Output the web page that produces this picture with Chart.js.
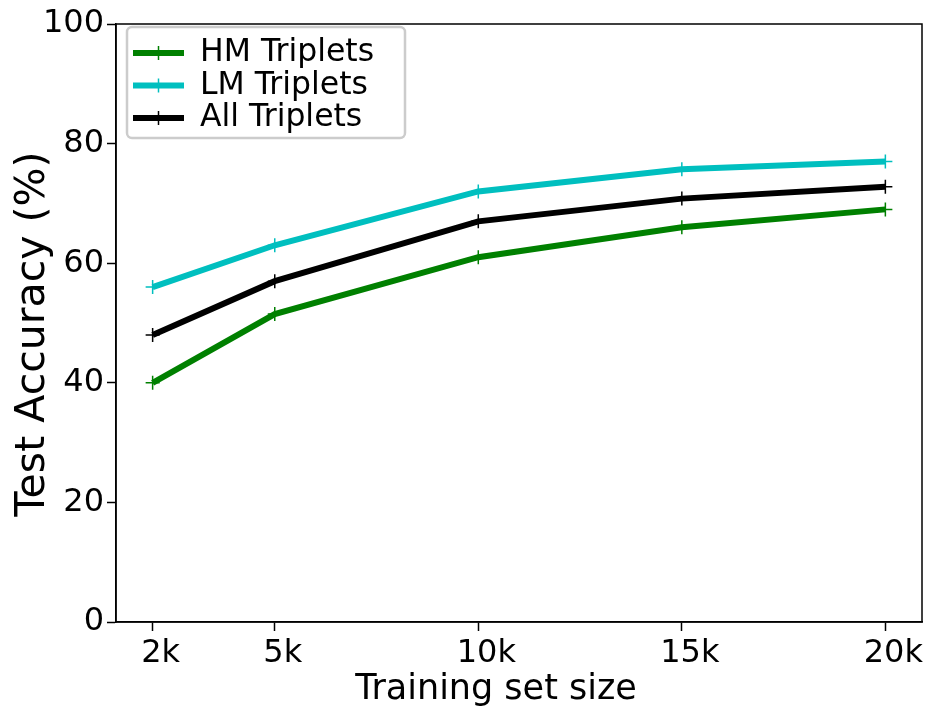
<!DOCTYPE html>
<html>
<head>
<meta charset="utf-8">
<script src="https://cdn.jsdelivr.net/npm/chart.js@4.4.0/dist/chart.umd.min.js"></script>
<style>
  html, body { margin: 0; padding: 0; background: #fff; }
  #wrap { width: 936px; height: 708px; }
</style>
</head>
<body>
<div id="wrap"><canvas id="accChart"></canvas></div>
<script>
const sizes = [2, 5, 10, 15, 20];
const sizeLabels = ["2k", "5k", "10k", "15k", "20k"];
const hmTriplets = [40, 51.5, 61, 66, 69];
const lmTriplets = [56, 63, 72, 75.7, 77];
const allTriplets = [48, 57, 67, 70.8, 72.8];
const yTicks = [0, 20, 40, 60, 80, 100];
const xTitle = "Training set size";
const yTitle = "Test Accuracy (%)";

const FONT = "'DejaVu Sans', sans-serif";

function toPoints(values) {
  return values.map((v, i) => ({ x: sizes[i], y: v }));
}

function makeSet(label, values, color) {
  return {
    label: label,
    data: toPoints(values),
    borderColor: color,
    backgroundColor: color,
    borderWidth: 6,
    pointStyle: "cross",
    pointRadius: 7,
    pointBorderWidth: 1.5,
    pointHoverRadius: 7,
    tension: 0,
  };
}

// box around the plot, axis titles and the framed legend, matplotlib style
const framePlugin = {
  id: "frame",
  afterDraw(chart) {
    const { ctx, chartArea: a } = chart;
    ctx.save();
    ctx.strokeStyle = "#000";
    ctx.lineWidth = 1.5;
    ctx.strokeRect(a.left, a.top, a.right - a.left, a.bottom - a.top);

    // axis titles
    ctx.fillStyle = "#000";
    ctx.textAlign = "center";
    ctx.textBaseline = "alphabetic";
    ctx.font = "35px " + FONT;
    ctx.fillText(xTitle, 496, 699);
    ctx.save();
    ctx.translate(44, 334);
    ctx.rotate(-Math.PI / 2);
    ctx.font = "41px " + FONT;
    ctx.fillText(yTitle, 0, 0);
    ctx.restore();

    // legend
    const bx = 127, by = 27, bw = 278, bh = 111, r = 5;
    ctx.beginPath();
    ctx.roundRect(bx, by, bw, bh, r);
    ctx.fillStyle = "rgba(255,255,255,0.85)";
    ctx.fill();
    ctx.strokeStyle = "#cccccc";
    ctx.lineWidth = 2.5;
    ctx.stroke();

    ctx.font = "31.5px " + FONT;
    ctx.textAlign = "left";
    ctx.textBaseline = "middle";
    chart.data.datasets.forEach((ds, i) => {
      const y = 53 + i * 32.5;
      ctx.strokeStyle = ds.borderColor;
      ctx.lineWidth = 6;
      ctx.beginPath();
      ctx.moveTo(133, y);
      ctx.lineTo(184, y);
      ctx.stroke();
      ctx.lineWidth = 1.5;
      ctx.beginPath();
      ctx.moveTo(158.5, y - 7);
      ctx.lineTo(158.5, y + 7);
      ctx.stroke();
      ctx.fillStyle = "#000";
      ctx.fillText(ds.label, 200, y);
    });
    ctx.restore();
  },
};

const ctx = document.getElementById("accChart").getContext("2d");

new Chart(ctx, {
  type: "line",
  data: {
    datasets: [
      makeSet("HM Triplets", hmTriplets, "#008000"),
      makeSet("LM Triplets", lmTriplets, "#00bfbf"),
      makeSet("All Triplets", allTriplets, "#000000"),
    ],
  },
  options: {
    responsive: true,
    maintainAspectRatio: false,
    animation: false,
    layout: { padding: { top: 24, right: 14, left: 0, bottom: 0 } },
    plugins: {
      legend: { display: false },
      tooltip: { enabled: false },
    },
    scales: {
      x: {
        type: "linear",
        min: 1.1,
        max: 20.9,
        afterBuildTicks: (scale) => {
          scale.ticks = sizes.map((v) => ({ value: v }));
        },
        afterFit: (scale) => {
          scale.height = 86;
        },
        grid: {
          drawOnChartArea: false,
          drawTicks: true,
          tickLength: 9,
          tickWidth: 1.5,
          color: "#000",
        },
        border: { display: true, color: "#000", width: 1.5 },
        ticks: {
          color: "#000",
          font: { family: FONT, size: 32 },
          padding: 3,
          maxRotation: 0,
          autoSkip: false,
          labelOffset: 8,
          callback: (value) => {
            const i = sizes.indexOf(value);
            return i >= 0 ? sizeLabels[i] : "";
          },
        },
      },
      y: {
        min: 0,
        max: 100,
        afterBuildTicks: (scale) => {
          scale.ticks = yTicks.map((v) => ({ value: v }));
        },
        afterFit: (scale) => {
          scale.width = 116;
        },
        grid: {
          drawOnChartArea: false,
          drawTicks: true,
          tickLength: 9,
          tickWidth: 1.5,
          color: "#000",
        },
        border: { display: true, color: "#000", width: 1.5 },
        ticks: {
          color: "#000",
          font: { family: FONT, size: 32 },
          padding: 3,
        },
      },
    },
  },
  plugins: [framePlugin],
});
</script>
</body>
</html>
